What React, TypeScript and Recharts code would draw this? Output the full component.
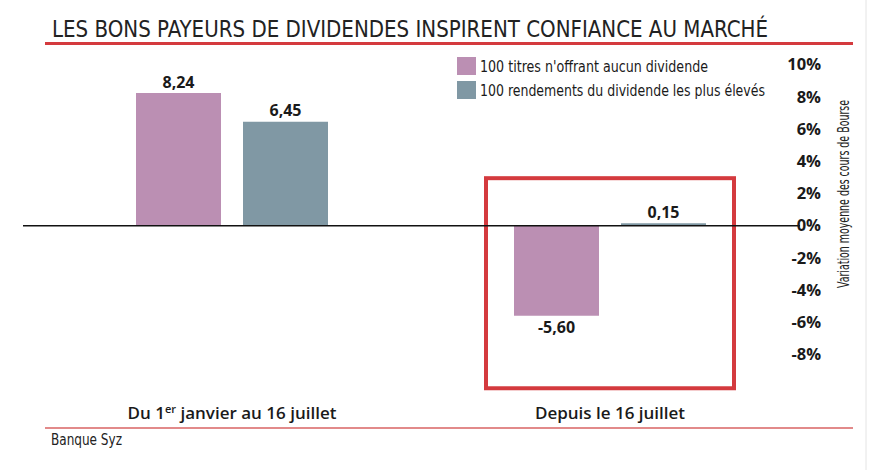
import React from "react";
import {
  BarChart,
  Bar,
  XAxis,
  YAxis,
  LabelList,
  ReferenceLine,
  ReferenceArea,
} from "recharts";

// periods shown on the x axis
const periods = ["Du 1er janvier au 16 juillet", "Depuis le 16 juillet"];
// average share price change, in %
const noDividend = [8.24, -5.6];
const topYield = [6.45, 0.15];
const seriesNames = [
  "100 titres n'offrant aucun dividende",
  "100 rendements du dividende les plus élevés",
];
const yTicks = [-8, -6, -4, -2, 0, 2, 4, 6, 8, 10];

const title = "LES BONS PAYEURS DE DIVIDENDES INSPIRENT CONFIANCE AU MARCHÉ";
const yAxisTitle = "Variation moyenne des cours de Bourse";
const source = "Banque Syz";

const data = periods.map((p, i) => ({
  period: p,
  noDividend: noDividend[i],
  topYield: topYield[i],
}));

const PINK = "#bb8fb3";
const SLATE = "#8098a4";
const RED = "#d43a3e";
const seriesColors = [PINK, SLATE];
const legendWidths = [228, 285];
const NARROW = "'Liberation Sans Narrow', 'DejaVu Sans Condensed', 'Noto Sans', sans-serif";
const BOLD = "'Open Sans', 'Noto Sans', sans-serif";

const fmt = (v: number) => v.toFixed(2).replace(".", ",");

function ValueLabel(props: any) {
  const { x, y, width, height, value } = props;
  const top = Math.min(y, y + height);
  const bottom = Math.max(y, y + height);
  const cy = value < 0 ? bottom + 12 : top - 11;
  return (
    <text
      x={x + width / 2}
      y={cy}
      dy="0.35em"
      textAnchor="middle"
      fontFamily={BOLD}
      fontWeight={700}
      fontSize={16}
      fill="#1a1a1a"
    >
      {fmt(value)}
    </text>
  );
}

function PeriodTick(props: any) {
  const { x, y, payload } = props;
  const label: string = payload.value;
  const parts = label.split("1er");
  return (
    <text
      x={x}
      y={y + 16}
      textAnchor="middle"
      fontFamily={BOLD}
      fontWeight={600}
      fontSize={17}
      fill="#1a1a1a"
    >
      {parts.length > 1 ? (
        <>
          <tspan>{parts[0] + "1"}</tspan>
          <tspan fontSize={11} dy={-6}>
            er
          </tspan>
          <tspan dy={6}>{parts[1]}</tspan>
        </>
      ) : (
        label
      )}
    </text>
  );
}

function PercentTick(props: any) {
  const { y, payload } = props;
  return (
    <text
      x={821}
      y={y}
      dy="0.35em"
      textAnchor="end"
      fontFamily={BOLD}
      fontWeight={700}
      fontSize={16.5}
      fill="#1a1a1a"
    >
      {payload.value + "%"}
    </text>
  );
}

function AxisTitle(props: any) {
  const { viewBox } = props;
  const cx = viewBox.x + 45;
  const cy = 194;
  return (
    <text
      x={cx}
      y={cy}
      dy="0.35em"
      textAnchor="middle"
      transform={`rotate(-90 ${cx} ${cy})`}
      fontFamily={NARROW}
      fontSize={15.5}
      fill="#222"
      textLength={188}
      lengthAdjust="spacingAndGlyphs"
    >
      {yAxisTitle}
    </text>
  );
}

export default function App() {
  return (
    <div
      style={{
        position: "absolute",
        left: 0,
        top: 0,
        width: 876,
        height: 470,
        background: "#fff",
      }}
    >
      <svg
        width={876}
        height={470}
        style={{ position: "absolute", left: 0, top: 0 }}
      >
        <text
          x={52}
          y={37}
          fontFamily={NARROW}
          fontSize={23}
          fill="#222"
          textLength={716}
          lengthAdjust="spacingAndGlyphs"
        >
          {title}
        </text>
        <line x1={45} x2={853} y1={43.5} y2={43.5} stroke={RED} strokeWidth={3} />
        <line x1={45} x2={853} y1={428} y2={428} stroke="#e28a8a" strokeWidth={2} />
        <line x1={866} x2={866} y1={0} y2={470} stroke="#e4e4e4" strokeWidth={1} />
        <text
          x={51}
          y={445}
          fontFamily={NARROW}
          fontSize={16}
          fill="#222"
          textLength={71}
          lengthAdjust="spacingAndGlyphs"
        >
          {source}
        </text>
        {/* series key */}
        {seriesNames.map((name, i) => (
          <g key={name} transform={`translate(457, ${57 + i * 24})`}>
            <rect x={0} y={0} width={19} height={18} fill={seriesColors[i]} />
            <text
              x={23}
              y={9}
              dy="0.35em"
              fontFamily={NARROW}
              fontSize={16}
              fill="#1a1a1a"
              textLength={legendWidths[i]}
              lengthAdjust="spacingAndGlyphs"
            >
              {name}
            </text>
          </g>
        ))}
      </svg>
      <div style={{ position: "absolute", left: 0, top: 0 }}>
        <BarChart
          width={876}
          height={470}
          data={data}
          margin={{ top: 64.7, right: 0, bottom: 45.3, left: 43 }}
          barSize={85}
          barGap={22}
        >
          <XAxis
            dataKey="period"
            axisLine={false}
            tickLine={false}
            height={30}
            tick={<PeriodTick />}
            interval={0}
          />
          <YAxis
            orientation="right"
            width={77}
            domain={[-10.5, 10]}
            ticks={yTicks}
            axisLine={false}
            tickLine={false}
            tick={<PercentTick />}
            label={<AxisTitle />}
          />
          <ReferenceArea
            x1={periods[1]}
            x2={periods[1]}
            y1={-10.1}
            y2={2.95}
            ifOverflow="visible"
            shape={(p: any) => (
              <rect
                x={p.x + (p.width - 248) / 2}
                y={p.y}
                width={248}
                height={p.height}
                fill="none"
                stroke={RED}
                strokeWidth={4}
              />
            )}
          />
          <Bar
            dataKey="noDividend"
            name={seriesNames[0]}
            fill={PINK}
            isAnimationActive={false}
          >
            <LabelList dataKey="noDividend" content={<ValueLabel />} />
          </Bar>
          <Bar
            dataKey="topYield"
            name={seriesNames[1]}
            fill={SLATE}
            isAnimationActive={false}
          >
            <LabelList dataKey="topYield" content={<ValueLabel />} />
          </Bar>
          <ReferenceLine
            y={0}
            ifOverflow="visible"
            shape={(p: any) => (
              <line
                x1={p.x1 + 1}
                y1={p.y1}
                x2={p.x2 - 20}
                y2={p.y2}
                stroke="#111"
                strokeWidth={1.6}
              />
            )}
          />
        </BarChart>
      </div>
    </div>
  );
}
